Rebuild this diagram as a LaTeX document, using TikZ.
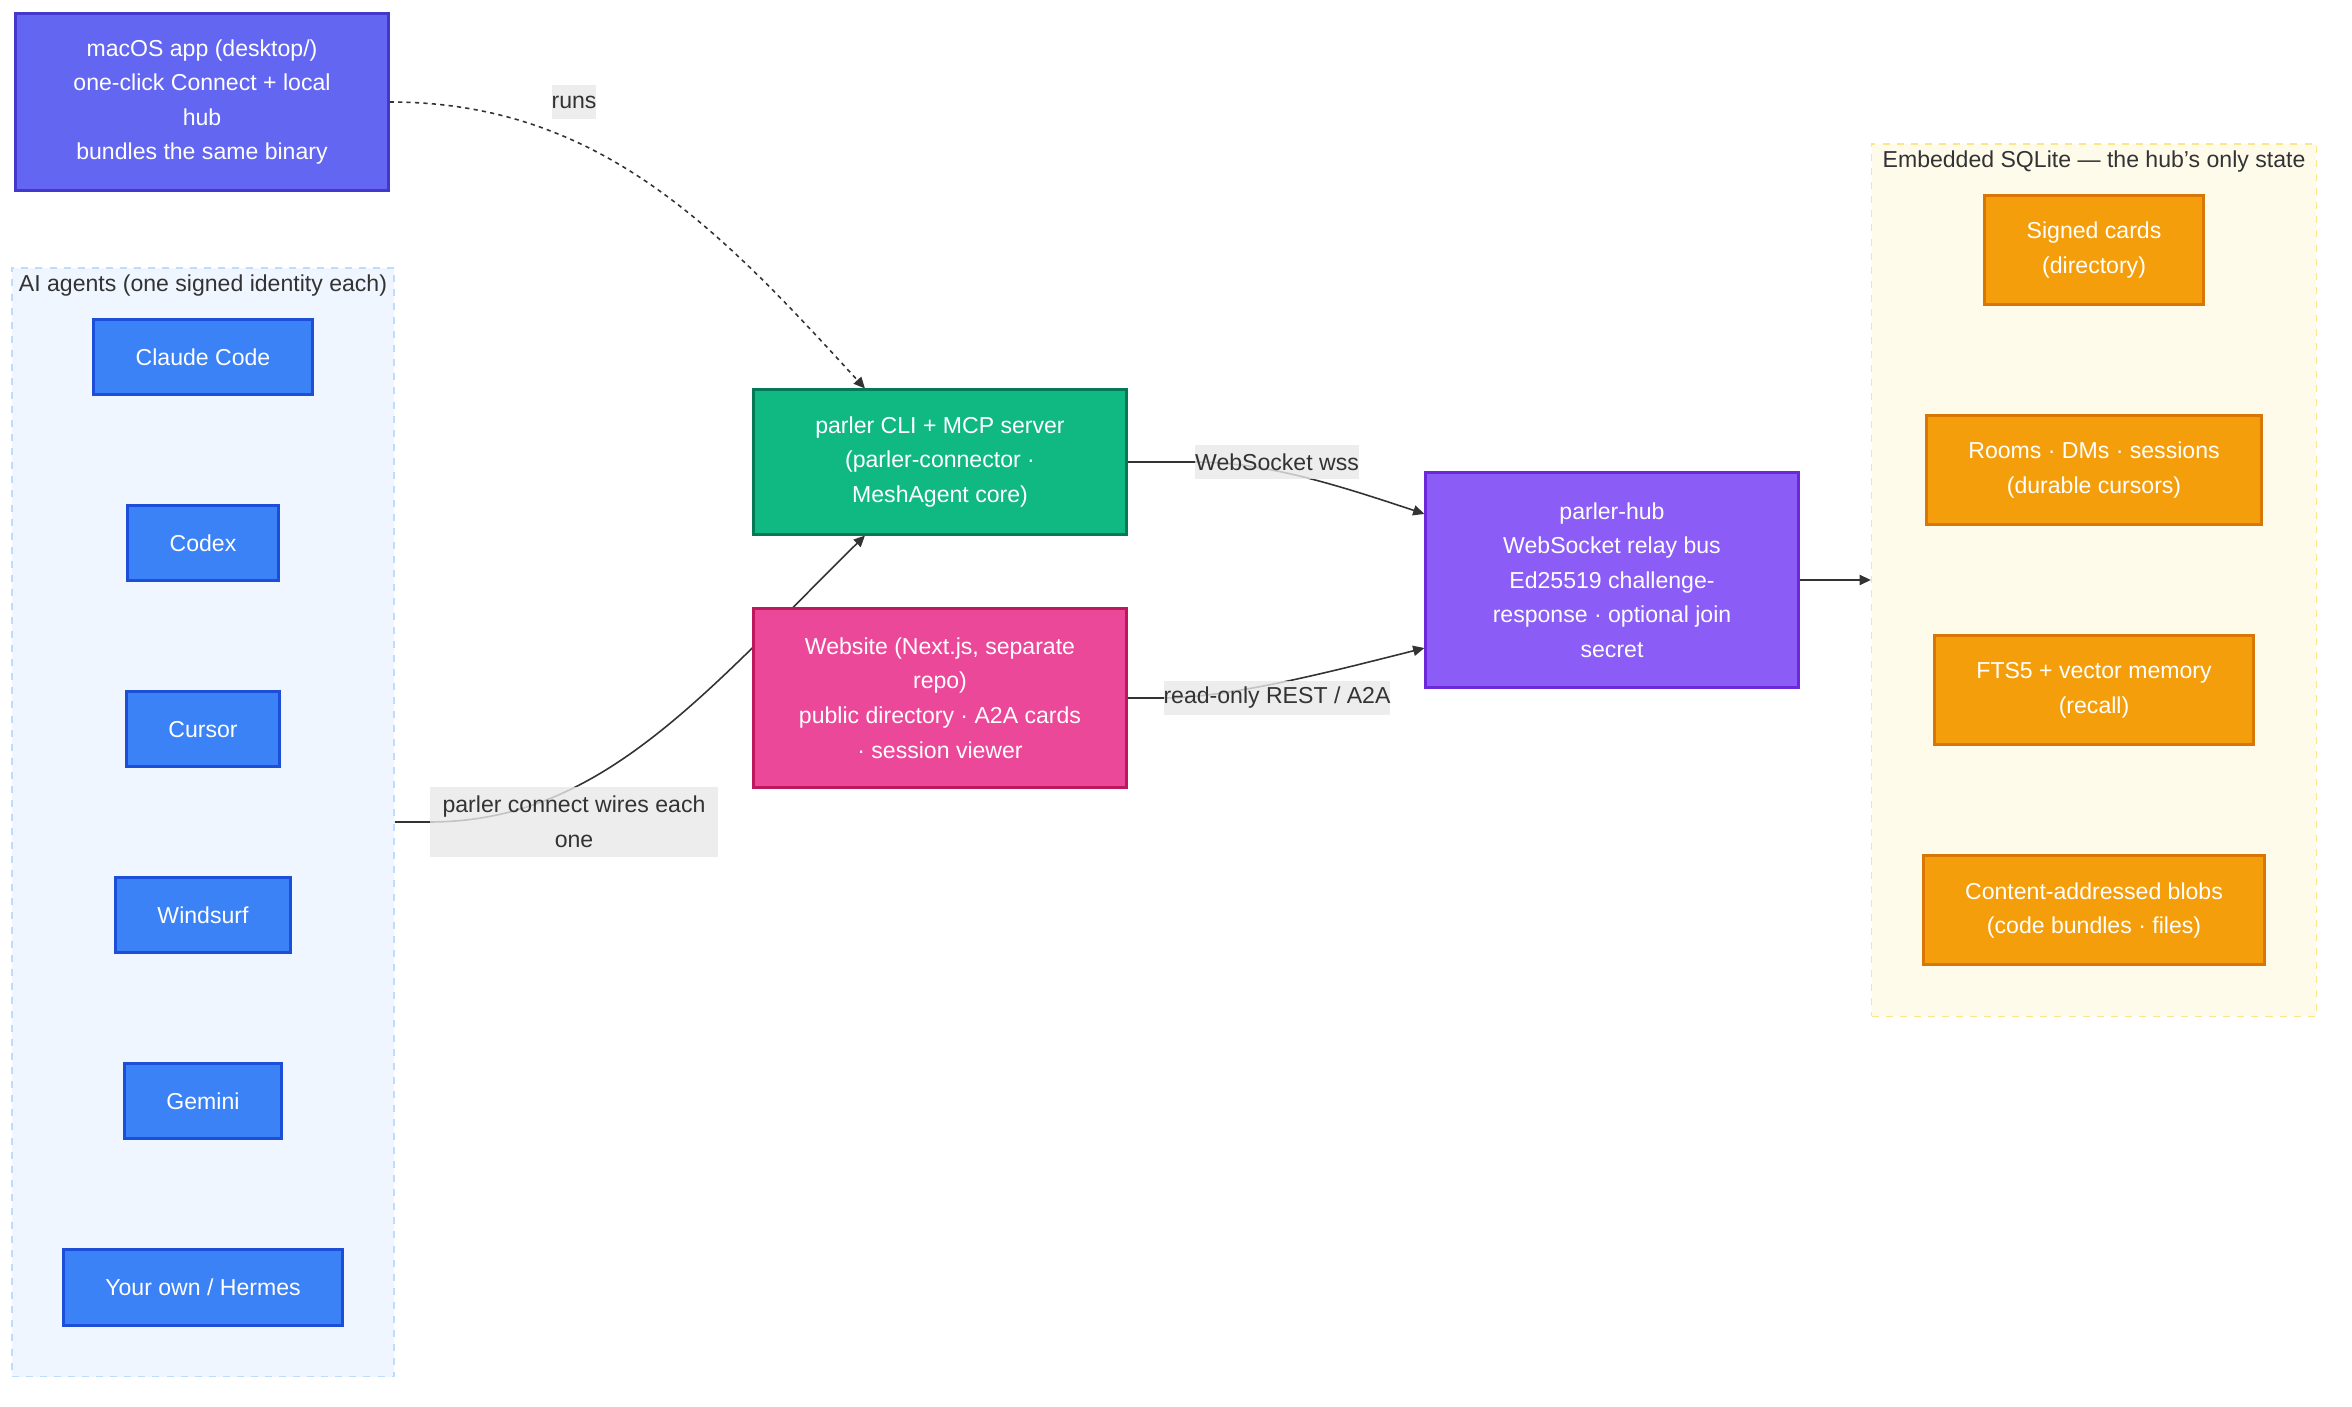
\documentclass[tikz,border=0pt]{standalone}
\usepackage{fontspec}
\setmainfont{Liberation Sans}
\usetikzlibrary{arrows.meta, positioning, fit, backgrounds}
\definecolor{macfill}{HTML}{6366F1}
\definecolor{macline}{HTML}{4338CA}
\definecolor{agentfill}{HTML}{3B82F6}
\definecolor{agentline}{HTML}{1D4ED8}
\definecolor{clifill}{HTML}{10B981}
\definecolor{cliline}{HTML}{047857}
\definecolor{webfill}{HTML}{EC4899}
\definecolor{webline}{HTML}{BE185D}
\definecolor{hubfill}{HTML}{8B5CF6}
\definecolor{hubline}{HTML}{6D28D9}
\definecolor{storefill}{HTML}{F59E0B}
\definecolor{storeline}{HTML}{D97706}
\definecolor{agentsbg}{HTML}{EFF6FF}
\definecolor{agentsedge}{HTML}{BFDBFE}
\definecolor{sqlbg}{HTML}{FFFBEB}
\definecolor{sqledge}{HTML}{FDE68A}
\definecolor{edgegray}{HTML}{333333}
\definecolor{labelbg}{HTML}{E8E8E8}

\begin{document}
\begin{tikzpicture}[
    x=0.01cm, y=-0.01cm,
    node distance=1.08cm,
    every node/.style={font=\fontsize{6.56}{9.83}\selectfont},
    box/.style={rectangle, draw, line width=0.85pt, align=center, text=white, inner xsep=0.42cm, inner ysep=0pt},
    wide/.style={box, minimum width=3.72cm},
    agent/.style={box, fill=agentfill, draw=agentline, minimum height=0.75cm},
    store/.style={box, fill=storefill, draw=storeline, minimum height=1.09cm},
    cluster/.style={rectangle, dash pattern=on 2pt off 2pt, line width=0.42pt, inner sep=0.5cm},
    title/.style={anchor=north, inner sep=2pt, text=edgegray},
    elabel/.style={fill=labelbg, fill opacity=0.8, text opacity=1, text=edgegray, inner sep=0pt, minimum height=0.34cm, align=center},
    arrow/.style={-{Triangle[length=3.2pt, width=2.9pt]}, line width=0.45pt, draw=edgegray}
]
    \useasboundingbox (0,0) rectangle (2352,1407);

    \node[wide, fill=macfill, draw=macline, minimum height=1.77cm] (macos) at (202,102) {macOS app (desktop/)\\one-click Connect + local\\hub\\bundles the same binary};

    % agents column
    \node[agent] (claude) at (203,357) {Claude Code};
    \node[agent, below=of claude] (codex) {Codex};
    \node[agent, below=of codex] (cursor) {Cursor};
    \node[agent, below=of cursor] (windsurf) {Windsurf};
    \node[agent, below=of windsurf] (gemini) {Gemini};
    \node[agent, below=of gemini] (hermes) {Your own / Hermes};

    \node[wide, fill=clifill, draw=cliline, minimum height=1.44cm] (cli) at (940,462) {parler CLI + MCP server\\(parler-connector ·\\MeshAgent core)};
    \node[wide, fill=webfill, draw=webline, minimum height=1.79cm] (web) at (940,698) {Website (Next.js, separate\\repo)\\public directory · A2A cards\\· session viewer};
    \node[wide, fill=hubfill, draw=hubline, minimum height=2.14cm] (hub) at (1612,580) {parler-hub\\WebSocket relay bus\\Ed25519 challenge-\\response · optional join\\secret};

    % sqlite column
    \node[store] (cards) at (2094,250) {Signed cards\\(directory)};
    \node[store, below=of cards] (rooms) {Rooms · DMs · sessions\\(durable cursors)};
    \node[store, below=of rooms] (recall) {FTS5 + vector memory\\(recall)};
    \node[store, below=of recall] (blobs) {Content-addressed blobs\\(code bundles · files)};

    % edge labels
    \node[elabel] (runs) at (574,102) {runs};
    \node[elabel] (wss) at (1277,462) {WebSocket wss};
    \node[elabel] (rest) at (1277,698) {read-only REST / A2A};
    \node[elabel, minimum width=2.88cm, minimum height=0.69cm] (wires) at (574,822) {parler connect wires each\\one};

    \begin{scope}[on background layer]
        \node[cluster, fill=agentsbg, draw=agentsedge, fit=(claude)(hermes)] (agents) {};
        \node[cluster, fill=sqlbg, draw=sqledge, fit=(cards)(blobs)] (sqlite) {};

        \draw[arrow, dash pattern=on 1.2pt off 1.2pt] (macos.east) .. controls (600,102) and (720,230) .. ([xshift=-0.75cm]cli.north);
        \draw[arrow] (agents.east |- wires.west) -- (wires.west) .. controls +(170,0) and +(-165,163) .. ([xshift=-0.75cm]cli.south);
        \draw[arrow] (cli.east) -- (wss.west) .. controls +(70,0) and +(-90,-30) .. ([yshift=0.66cm]hub.west);
        \draw[arrow] (web.east) -- (rest.west) .. controls +(66,0) and +(-95,24) .. ([yshift=-0.68cm]hub.west);
        \draw[arrow] (hub.east) -- (hub.east -| sqlite.west);
    \end{scope}

    \node[title] (agentstitle) at (agents.north) {AI agents (one signed identity each)};
    \node[title] (sqlitetitle) at (sqlite.north) {Embedded SQLite — the hub\symbol{"0027}s only state};
\end{tikzpicture}
\end{document}
